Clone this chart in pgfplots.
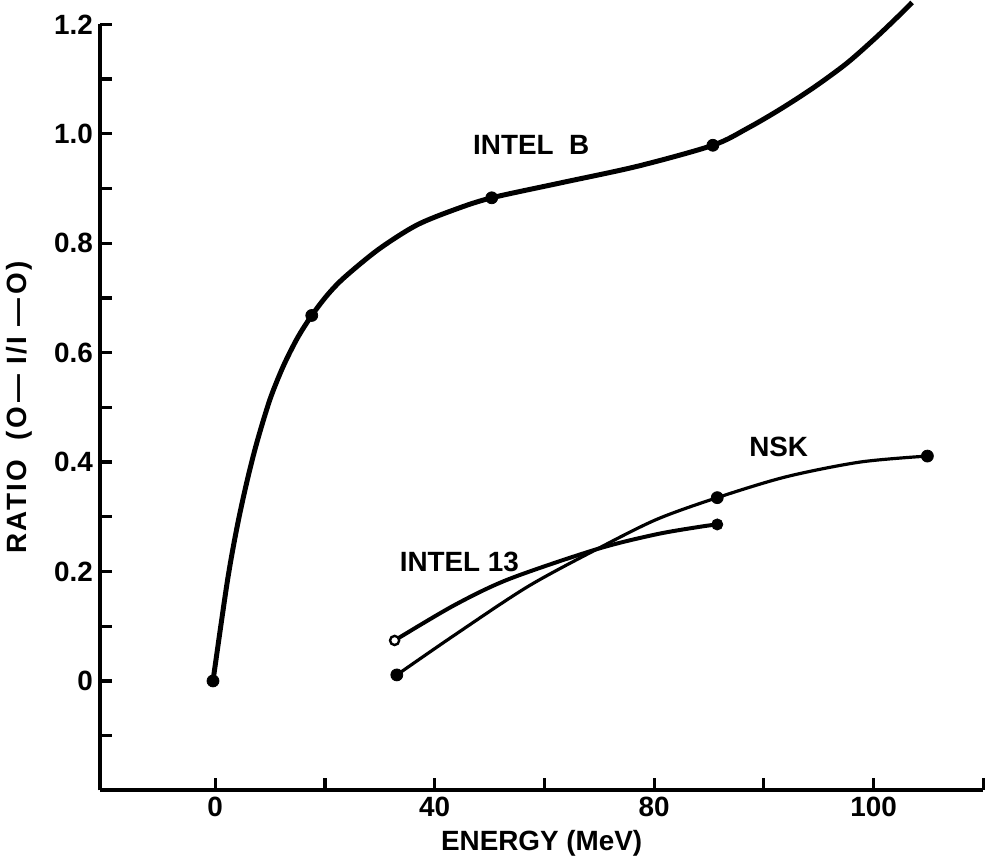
\documentclass[border=0pt]{standalone}
\usepackage{pgfplots}
\pgfplotsset{compat=1.18}
\usepackage{fontspec}
\setmainfont{Liberation Sans}
\begin{document}
\begin{tikzpicture}
\begin{axis}[
    scale only axis,
    width=444pt, height=385pt,
    xmin=-21, xmax=140, ymin=-0.2, ymax=1.2,
    axis lines*=left,
    axis line style={line width=2pt},
    xtick={0,20,40,60,80,100,120,140},
    xticklabels={0,,40,,80,,100,},
    ytick={0,0.2,0.4,0.6,0.8,1.0,1.2},
    yticklabels={0,0.2,0.4,0.6,0.8,1.0,1.2},
    minor ytick={-0.1,0.1,0.3,0.5,0.7,0.9,1.1},
    tick align=inside,
    major tick length=6pt, minor tick length=6pt,
    tick style={black, line width=1.6pt},
    tick label style={font=\fontsize{14}{16}\selectfont\bfseries},
    /pgf/number format/assume math mode=true,
    label style={font=\fontsize{14}{16}\selectfont\bfseries},
    xlabel={ENERGY (MeV)},
    ylabel={\addfontfeatures{LetterSpace=8}RATIO\ \ (O\,—\ I/I\ —\,O)},
    ylabel style={yshift=4pt},
    clip=false,
]

% INTEL B
\addplot[black, line width=2.5pt, smooth] coordinates {
    (-0.4,0.0) (2.2,0.181) (4.0,0.282) (5.8,0.365) (7.6,0.436)
    (10.0,0.515) (12.4,0.575) (15.0,0.627) (17.6,0.668) (20.5,0.706)
    (23.6,0.738) (29.8,0.789) (36.7,0.833) (43.8,0.862) (50.4,0.883)
    (63.3,0.911) (77.1,0.941) (90.7,0.979) (97.0,1.010)
    (103.0,1.045) (109.0,1.084) (115.0,1.128) (120.0,1.172) (124.0,1.210)
    (127.0,1.240)
};
\addplot[only marks, mark=*, mark size=3pt, black] coordinates {
    (-0.4,0.0) (17.6,0.668) (50.4,0.883) (90.7,0.979)
};

% INTEL 13
\addplot[black, line width=2pt, smooth] coordinates {
    (32.7,0.074) (43.5,0.138) (53.5,0.186) (69.6,0.241)
    (80.4,0.268) (88.5,0.282) (91.5,0.286)
};
\addplot[only marks, mark=*, mark size=2.8pt, black] coordinates {(91.5,0.286)};
\addplot[only marks, mark=*, mark size=2.3pt, black, fill=white, line width=1.2pt] coordinates {(32.7,0.074)};

% NSK
\addplot[black, line width=1.6pt, smooth] coordinates {
    (33.1,0.011) (43.5,0.083) (56.9,0.172) (69.6,0.241) (80.4,0.295)
    (91.5,0.335) (104.0,0.373) (117.5,0.400) (129.8,0.411)
};
\addplot[only marks, mark=*, mark size=3pt, black] coordinates {
    (33.1,0.011) (91.5,0.335) (129.8,0.411)
};

\node[font=\fontsize{14}{16}\selectfont\bfseries] at (axis cs:57.6,0.980) {INTEL\ \ B};
\node[font=\fontsize{14}{16}\selectfont\bfseries] at (axis cs:44.5,0.218) {INTEL 13};
\node[font=\fontsize{14}{16}\selectfont\bfseries] at (axis cs:102.7,0.428) {NSK};

\end{axis}
\end{tikzpicture}
\end{document}
